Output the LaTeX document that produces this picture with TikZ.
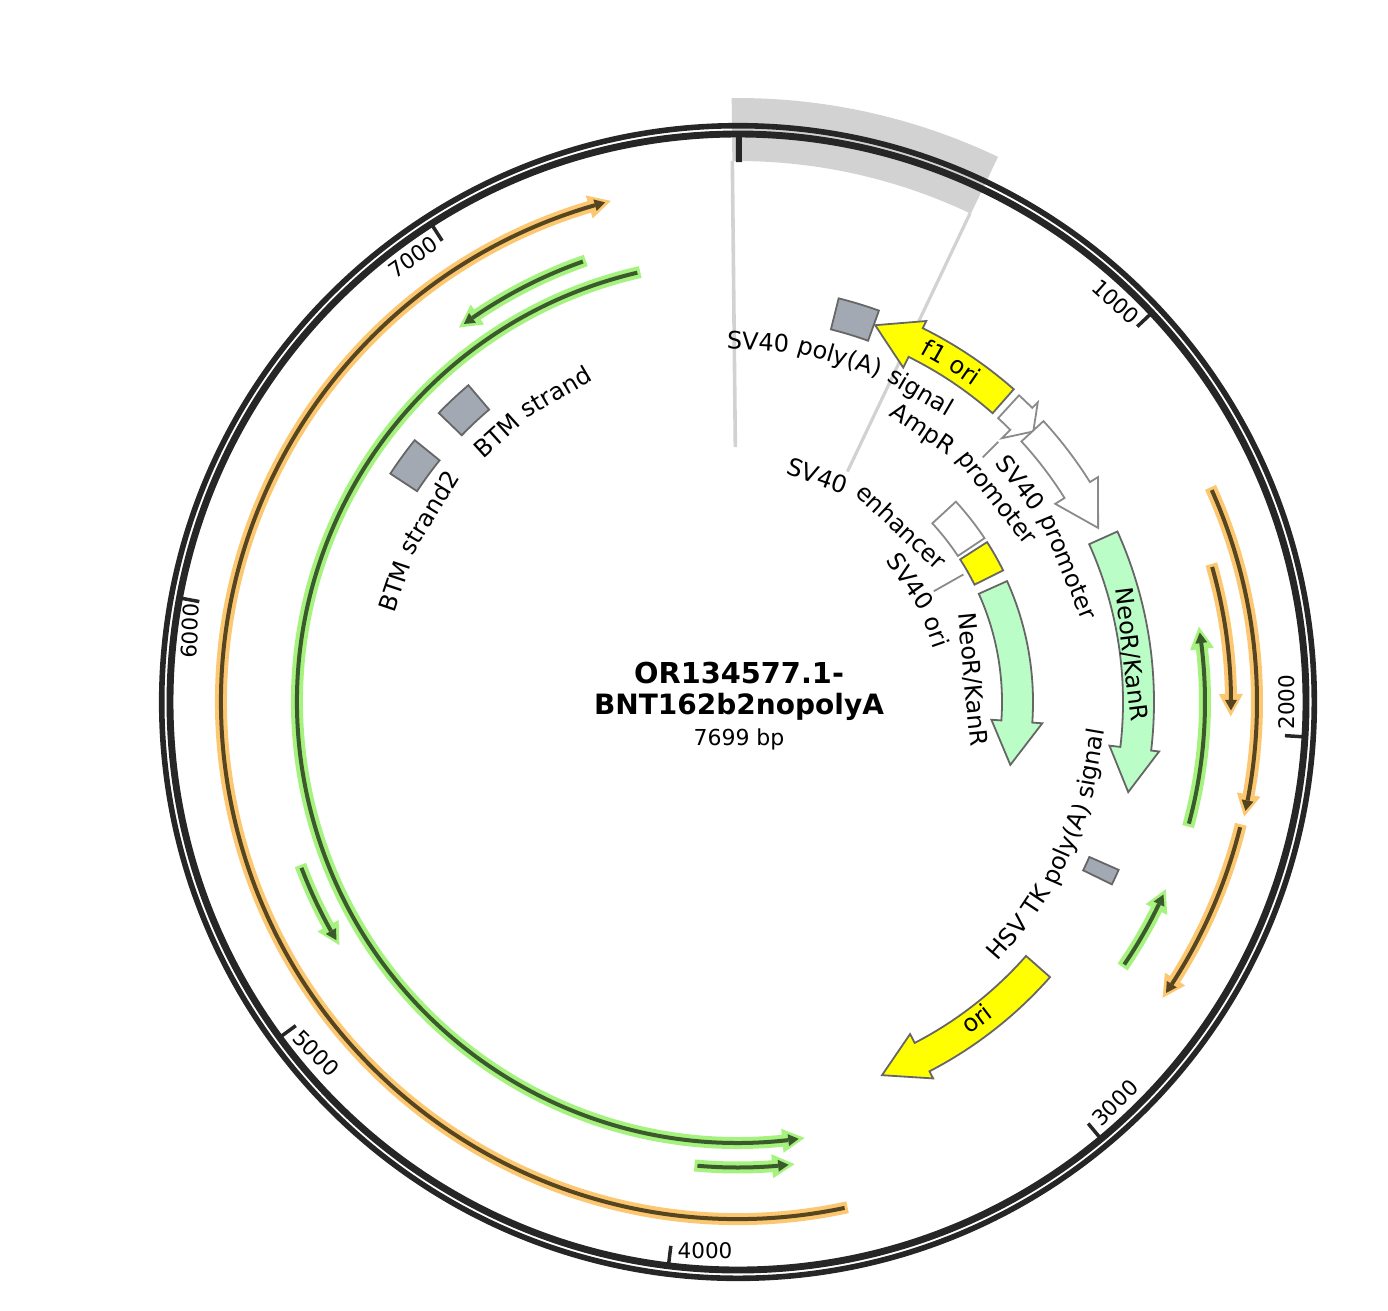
\documentclass[tikz,border=0pt]{standalone}
\usepackage{fontspec}
\setmainfont{DejaVu Sans}
\definecolor{ring}{HTML}{262626}
\definecolor{wedge}{HTML}{D2D2D2}
\definecolor{edgegrey}{HTML}{666666}
\definecolor{lightedge}{HTML}{8A8A8A}
\definecolor{mint}{HTML}{BBFDC6}
\definecolor{pureyellow}{HTML}{FFFF00}
\definecolor{boxgrey}{HTML}{A3A9B3}
\definecolor{orangehalo}{HTML}{FBC871}
\definecolor{orangedark}{HTML}{57451F}
\definecolor{greenhalo}{HTML}{A6F27F}
\definecolor{greendark}{HTML}{3B5A2C}
\newcommand\lblfont{\fontsize{24}{28}\selectfont}
\newcommand\tickfont{\fontsize{21.5}{25}\selectfont}
\newcommand\lblem{24}
\tikzset{
  feat/.style={draw=edgegrey,line width=1.8pt,line join=miter},
  whitefeat/.style={draw=lightedge,fill=white,line width=1.8pt},
  yellowfeat/.style={feat,fill=pureyellow},
  mintfeat/.style={feat,fill=mint},
  greybox/.style={feat,fill=boxgrey},
  leader/.style={draw=lightedge,line width=1.8pt},
  ticklabel/.style={font=\tickfont,inner sep=0pt},
  tickmark/.style={draw=ring,line width=3.5pt},
  wordlabel/.style={font=\lblfont,inner sep=0pt,anchor=base}
}
% words set round an arc: #1 name, #2 radius, #3 middle angle, #4 +1 anticlockwise, -1 clockwise,
% #5 list of word/width-in-em
\newcommand\curvewords[5]{%
  \gdef\totem{-0.318}%
  \foreach \wordtxt/\wordem in {#5}{\pgfmathsetmacro\tmpem{\totem+\wordem+0.318}\xdef\totem{\tmpem}}%
  \gdef\curem{0}%
  \foreach \wordtxt/\wordem [count=\wordi] in {#5}{%
    \pgfmathsetmacro\wang{#3+(#4)*(\curem+0.5*\wordem-0.5*\totem)*\lblem/(#2)*57.296}%
    \pgfmathsetmacro\wrot{\wang+(#4)*90}%
    \node[wordlabel,rotate=\wrot] (#1-\wordi) at (\wang:#2) {\wordtxt};
    \pgfmathsetmacro\tmpem{\curem+\wordem+0.318}\xdef\curem{\tmpem}%
  }}
% arrow feature: #1 style, #2 rin, #3 rout, #4 tail, #5 neck, #6 tip, #7 barb in, #8 barb out
\newcommand\featarrow[8]{%
  \pgfmathsetmacro\rmid{(#2+#3)/2}%
  \path[#1] (#4:#3) arc[start angle=#4,end angle=#5,radius=#3] -- (#5:#8) -- (#6:\rmid) -- (#5:#7) -- (#5:#2)
    arc[start angle=#5,end angle=#4,radius=#2] -- cycle;}
% box feature: #1 style, #2 rin, #3 rout, #4 a1, #5 a2
\newcommand\featbox[5]{%
  \path[#1] (#4:#3) arc[start angle=#4,end angle=#5,radius=#3] -- (#5:#2)
    arc[start angle=#5,end angle=#4,radius=#2] -- cycle;}
% primer: #1 r, #2 a1, #3 a2, #4 halo, #5 dark
\newcommand\primer[5]{%
  \pgfmathsetmacro\dirn{(#3>#2)?1:-1}%
  \pgfmathsetmacro\ast{#2-\dirn*3/#1*57.296}%
  \pgfmathsetmacro\atip{#3+\dirn*1.5/#1*57.296}%
  \pgfmathsetmacro\ahb{#3-\dirn*21/#1*57.296}%
  \pgfmathsetmacro\ahn{#3-\dirn*17/#1*57.296}%
  \pgfmathsetmacro\adt{#3-\dirn*4.5/#1*57.296}%
  \pgfmathsetmacro\adb{#3-\dirn*15/#1*57.296}%
  \pgfmathsetmacro\ris{#1-12}\pgfmathsetmacro\ros{#1+12}%
  \pgfmathsetmacro\rid{#1-6}\pgfmathsetmacro\rod{#1+6}%
  \draw[#4,line width=12pt] (\ast:#1) arc[start angle=\ast,end angle=\ahn,radius=#1];
  \fill[#4] (\atip:#1) -- (\ahb:\ros) -- (\ahb:\ris) -- cycle;
  \draw[#5,line width=4pt] (#2:#1) arc[start angle=#2,end angle=\adb,radius=#1];
  \fill[#5] (\adt:#1) -- (\adb:\rod) -- (\adb:\rid) -- cycle;}
\begin{document}
\begin{tikzpicture}[x=1pt,y=1pt]
\useasboundingbox (0,0) rectangle (1388,-1310);
\begin{scope}[shift={(738,-702)}]
% selection wedge
\fill[wedge] (90.6:604) arc[start angle=90.6,end angle=64.5,radius=604] -- (64.5:541) arc[start angle=64.5,end angle=90.6,radius=541] -- cycle;
\draw[wedge,line width=3.6pt] (90.6:541) -- (90.6:255);
\draw[wedge,line width=3.2pt] (64.6:541) -- (64.6:255);
% backbone
\draw[ring,line width=5.6pt] (0,0) circle[radius=576.3];
\draw[ring,line width=6.9pt] (0,0) circle[radius=568];
% ticks
\draw[ring,line width=6pt] (89.9:566) -- (89.9:540);
\foreach \a in {43.24,-3.52,-50.28,-97.04,-143.8,-190.56,-237.32}{\draw[tickmark] (\a:566) -- (\a:548);}
\node[ticklabel,rotate=-42] (t1000) at (378,400) {1000};
\node[ticklabel,rotate=90] (t2000) at (549,0) {2000};
\node[ticklabel,rotate=45] (t3000) at (377,-401) {3000};
\node[ticklabel] (t4000) at (-33,-549) {4000};
\node[ticklabel,rotate=-45] (t5000) at (-422,-351) {5000};
\node[ticklabel,rotate=87] (t6000) at (-548,71) {6000};
\node[ticklabel,rotate=35] (t7000) at (-325,445) {7000};
% primers
\primer{517}{-78.1}{-255.6}{orangehalo}{orangedark}
\primer{441}{103.2}{278.5}{greenhalo}{greendark}
\primer{467}{109.4}{126.5}{greenhalo}{greendark}
\primer{467}{200.8}{211.2}{greenhalo}{greendark}
\primer{465.5}{265}{276.8}{greenhalo}{greendark}
\primer{519}{24.1}{-12.6}{orangehalo}{orangedark}
\primer{517.5}{-14}{-34.7}{orangehalo}{orangedark}
\primer{493}{15.9}{-1.5}{orangehalo}{orangedark}
\primer{467}{-15.1}{9.1}{greenhalo}{greendark}
\primer{467}{-34.2}{-23.8}{greenhalo}{greendark}
% features
\featbox{greybox}{384}{416}{76}{70.2}
\featarrow{yellowfeat}{385}{417}{48.6}{63.7}{70}{373}{425}
\featarrow{whitefeat}{385}{416}{47.5}{45}{42.5}{373}{424}
\featarrow{whitefeat}{385}{415}{42.6}{32}{25.8}{374}{424.5}
\featarrow{mintfeat}{385}{416}{24.2}{-6.7}{-13}{374}{424}
\featbox{whitefeat}{264}{296}{42.6}{33.6}
\featbox{yellowfeat}{264}{296}{32.7}{26.4}
\featarrow{mintfeat}{264}{295}{24.2}{-4}{-13}{254}{305}
\featbox{greybox}{384}{416}{-26}{-23.8}
\featarrow{yellowfeat}{384}{416}{-41.4}{-62.6}{-68.9}{374}{424}
\featbox{greybox}{384}{416}{130.4}{136}
\featbox{greybox}{384}{416}{141}{146.7}
% leaders
\draw[leader] (45:346) -- (45:368);
\draw[leader] (29.5:225) -- (29.5:259);
% labels
\curvewords{polya}{352}{72.8}{-1}{SV40/2.591,poly(A)/3.581,signal/2.959}
\curvewords{ampr}{322}{45.3}{-1}{AmpR/2.988,promoter/4.662}
\curvewords{svprom}{349}{28}{-1}{SV40/2.591,promoter/4.662}
\curvewords{enh}{231}{55.7}{-1}{SV40/2.591,enhancer/4.706}
\curvewords{svori}{202}{29.4}{-1}{SV40/2.591,ori/1.301}
\curvewords{neoa}{227.5}{5.5}{-1}{{NeoR/KanR}/5.605}
\curvewords{neob}{388}{6.9}{-1}{{NeoR/KanR}/5.605}
\curvewords{fori}{393}{57.9}{-1}{f1/0.988,ori/1.301}
\curvewords{hsv}{366}{-24.7}{1}{HSV/2.071,TK/1.267,poly(A)/3.581,signal/2.959}
\curvewords{oril}{405}{-53}{1}{ori/1.301}
\curvewords{btm}{351}{125.3}{-1}{BTM/2.16,strand/3.206}
\curvewords{btmb}{354}{153.3}{-1}{BTM/2.16,strand2/3.842}
% centre title
\node[font=\fontsize{28.8}{32}\selectfont\bfseries,inner sep=0pt] (title1) at (1,29) {OR134577.1-};
\node[font=\fontsize{28}{32}\selectfont\bfseries,inner sep=0pt] (title2) at (1,-5) {BNT162b2nopolyA};
\node[font=\fontsize{22}{25}\selectfont,inner sep=0pt] (bp) at (1,-37) {7699 bp};
\end{scope}
\end{tikzpicture}
\end{document}
